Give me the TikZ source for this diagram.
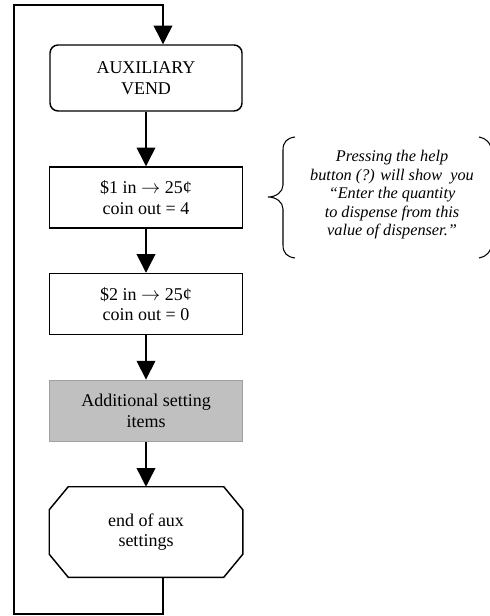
\documentclass[tikz,border=0pt]{standalone}
\usepackage{fontspec}
\setmainfont{Liberation Serif}
\usetikzlibrary{arrows.meta,calc}

\begin{document}
\begin{tikzpicture}[x=0.75pt,y=-0.75pt,
  flowline/.style={line width=1.1pt,line join=miter},
  flowarrow/.style={flowline,-{Triangle[length=14pt,width=14pt]}},
  boxtext/.style={align=center,font=\fontsize{13.5}{15.5}\selectfont,inner sep=0pt},
  stepbox/.style={boxtext,draw,line width=1.1pt,minimum width=144.75pt,minimum height=45.75pt},
  roundbox/.style={stepbox,rounded corners=6pt,minimum width=144pt,minimum height=49.5pt},
  greybox/.style={stepbox,fill=grey fill,draw=grey edge,line width=1.4pt},
  notetext/.style={align=center,font=\itshape\fontsize{12.2}{13.9}\selectfont,inner sep=0pt},
  bracket/.style={line width=0.8pt}]
\definecolor{grey fill}{HTML}{C0C0C0}
\definecolor{grey edge}{HTML}{A0A0A0}
\useasboundingbox (0,0) rectangle (489,616);

% flow steps
\node[roundbox] (aux) at (146,78) {AUXILIARY\\VEND};
\node[stepbox] (b1) at (146,197.5) {\$1 in $\rightarrow$ 25¢\\coin out = 4};
\node[stepbox] (b2) at (146,304) {\$2 in $\rightarrow$ 25¢\\coin out = 0};
\node[greybox] (add) at (146,411) {Additional setting\\items};
\node[boxtext,minimum width=144.75pt,minimum height=67.5pt] (oct) at (146,532) {end of aux\\settings};

% octagonal end marker
\draw[flowline]
  ($(oct.north west)+(19,0)$) -- ($(oct.north east)+(-19,0)$)
  -- ($(oct.north east)+(0,23)$) -- ($(oct.south east)+(0,-23)$)
  -- ($(oct.south east)+(-19,0)$) -- ($(oct.south west)+(19,0)$)
  -- ($(oct.south west)+(0,-23)$) -- ($(oct.north west)+(0,23)$) -- cycle;

% connectors
\draw[flowarrow] (aux.south) -- (b1.north);
\draw[flowarrow] (b1.south) -- (b2.north);
\draw[flowarrow] (b2.south) -- (add.north);
\draw[flowarrow] (add.south) -- (oct.north);

% return loop
\coordinate (tr) at (163,5);
\coordinate (tl) at (14,5);
\coordinate (bl) at (14,614);
\coordinate (br) at (163,614);
\draw[flowarrow] (oct.south -| br) -- (br) -- (bl) -- (tl) -- (tr) -- (aux.north -| tr);

% help note
\node[notetext] (note) at (392,195) {Pressing the help\\button (?) will show\ \ you\\“Enter the quantity\\to dispense from this\\value of dispenser.”};

% braces around the note
\draw[bracket] (295,137) .. controls (287,138) and (283,142) .. (283,150)
  -- (283,185) .. controls (283,192) and (276,197) .. (268,197)
  .. controls (276,197) and (283,202) .. (283,209)
  -- (283,245) .. controls (283,253) and (287,257) .. (295,258);
\draw[bracket] (479,137) .. controls (486,138) and (491,143) .. (492,152) -- (492,243)
  .. controls (491,252) and (486,257) .. (479,258);
\end{tikzpicture}
\end{document}
